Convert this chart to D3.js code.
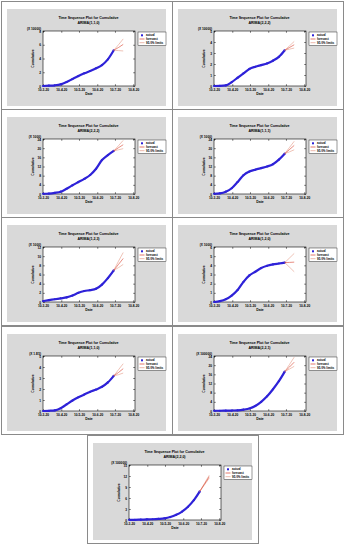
<!DOCTYPE html>
<meta charset="utf-8">
<script src="https://d3js.org/d3.v7.min.js"></script>
<style>
  body { margin: 0; background: #fff; }
  text { font-family: "Liberation Sans", Arial, sans-serif; }
</style>
<div id="chart"></div>
<script>

// ---- data ----
var models = ["ARIMA(1,1,0)", "ARIMA(2,2,2)", "ARIMA(2,2,2)", "ARIMA(1,1,1)", "ARIMA(1,2,3)",
              "ARIMA(1,2,0)", "ARIMA(1,1,0)", "ARIMA(2,2,1)", "ARIMA(2,2,0)"];
var multipliers = ["(X 10000)", "(X 10000)", "(X 1000)", "(X 1000)", "(X 1000)",
                   "(X 1000)", "(X 1.E5)", "(X 100000)", "(X 100000)"];
var yMax = [8, 5, 24, 24, 12, 6, 5, 24, 15];
var yStep = [2, 1, 4, 4, 2, 1, 1, 4, 3];

// x in days from 10-3-20
var dateTicks = [0, 31, 61, 92, 122, 153];
var dateLabels = ["10-3-20", "10-4-20", "10-5-20", "10-6-20", "10-7-20", "10-8-20"];
var actualDays = [0, 10, 20, 30, 40, 50, 60, 70, 80, 90, 100, 110, 120];
var forecastDays = [120, 128, 136];

var actual = [
  [0, 0.05, 0.1, 0.24, 0.58, 1.02, 1.45, 1.84, 2.18, 2.57, 3.05, 3.88, 5.2],
  [0, 0.01, 0.05, 0.35, 0.75, 1.15, 1.55, 1.75, 1.9, 2.05, 2.3, 2.65, 3.25],
  [0.1, 0.2, 0.5, 1.0, 2.3, 3.8, 5.2, 6.6, 8.3, 11.0, 14.8, 17.0, 18.8],
  [0.1, 0.3, 1.0, 2.5, 5.2, 8.2, 9.8, 10.6, 11.3, 12.0, 13.0, 15.0, 17.6],
  [0.2, 0.4, 0.6, 0.8, 1.0, 1.4, 2.0, 2.4, 2.6, 2.9, 3.8, 5.2, 6.9],
  [0, 0.1, 0.3, 0.7, 1.3, 2.2, 2.9, 3.3, 3.7, 3.95, 4.1, 4.2, 4.3],
  [0, 0.02, 0.05, 0.25, 0.6, 0.95, 1.25, 1.5, 1.75, 1.95, 2.2, 2.6, 3.2],
  [0.1, 0.1, 0.15, 0.2, 0.3, 0.6, 1.1, 2.2, 4.0, 6.4, 9.5, 13.0, 17.2],
  [0.05, 0.05, 0.1, 0.15, 0.2, 0.3, 0.45, 0.8, 1.4, 2.3, 3.6, 5.4, 7.8]
];
var forecast = [
  [5.2, 5.6, 6.05], [3.25, 3.5, 3.75], [18.8, 20.2, 21.5], [17.6, 19.4, 21.2], [6.9, 8.2, 9.5],
  [4.3, 4.32, 4.35], [3.2, 3.5, 3.85], [17.2, 19.2, 21.3], [7.8, 9.8, 11.8]
];
var lower = [
  [5.2, 5.15, 5.1], [3.25, 3.35, 3.45], [18.8, 19.3, 19.8], [17.6, 18.4, 19.3], [6.9, 7.5, 8.2],
  [4.3, 3.8, 3.3], [3.2, 3.3, 3.45], [17.2, 18.3, 19.5], [7.8, 9.6, 11.4]
];
var upper = [
  [5.2, 6.0, 6.85], [3.25, 3.65, 4.05], [18.8, 21.1, 23.4], [17.6, 20.3, 23.0], [6.9, 8.9, 10.8],
  [4.3, 4.8, 5.3], [3.2, 3.75, 4.3], [17.2, 20.3, 23.5], [7.8, 10.0, 12.2]
];

// cell positions (top-left corners)
var cellX = [1, 172, 1, 172, 1, 172, 1, 172, 87];
var cellY = [1, 1, 109, 109, 217, 217, 326, 326, 435];
var cellW = 171, cellH = 108;

var svg = d3.select("#chart").append("svg")
    .attr("width", 345)
    .attr("height", 550);

// gray panel and plot layout inside each cell
var panel = {x: 6, y: 8, w: 159, h: 97};
var plot = {left: 36, top: 22, width: 92, height: 55};

models.forEach(function(model, i) {

    var cell = svg.append("g")
        .attr("transform", "translate(" + cellX[i] + "," + cellY[i] + ")");

    cell.append("rect")
        .attr("x", 0.5).attr("y", 0.5)
        .attr("width", cellW).attr("height", cellH)
        .attr("fill", "#fff")
        .attr("stroke", "#8a8a8a")
        .attr("stroke-width", 1);

    var g = cell.append("g")
        .attr("transform", "translate(" + panel.x + "," + panel.y + ")");

    g.append("rect")
        .attr("width", panel.w).attr("height", panel.h)
        .attr("fill", "#d9d9d9");

    // title
    g.append("text")
        .attr("x", panel.w / 2 + 2).attr("y", 10)
        .attr("text-anchor", "middle")
        .attr("font-size", 3.6).attr("font-weight", "bold")
        .text("Time Sequence Plot for Cumulative");
    g.append("text")
        .attr("x", panel.w / 2 + 2).attr("y", 14.5)
        .attr("text-anchor", "middle")
        .attr("font-size", 3.6).attr("font-weight", "bold")
        .text(model);

    var p = g.append("g")
        .attr("transform", "translate(" + plot.left + "," + plot.top + ")");

    p.append("rect")
        .attr("width", plot.width).attr("height", plot.height)
        .attr("fill", "#fff");

    var x = d3.scaleLinear().domain([0, 156]).range([0, plot.width]);
    var y = d3.scaleLinear().domain([0, yMax[i]]).range([plot.height, 0]);
    var yTicks = d3.range(0, yMax[i] + yStep[i] / 2, yStep[i]);

    // axes
    p.append("g")
        .attr("transform", "translate(0," + plot.height + ")")
        .call(d3.axisBottom(x).tickValues(dateTicks)
            .tickFormat(function(d, k) { return dateLabels[k]; })
            .tickSizeInner(-1.8).tickSizeOuter(0).tickPadding(2.5));
    p.append("g")
        .call(d3.axisLeft(y).tickValues(yTicks).tickFormat(d3.format("d"))
            .tickSizeInner(-1.8).tickSizeOuter(0).tickPadding(2));
    p.append("g")
        .call(d3.axisTop(x).tickValues(dateTicks).tickFormat("")
            .tickSizeInner(-1.8).tickSizeOuter(0));
    p.append("g")
        .attr("transform", "translate(" + plot.width + ",0)")
        .call(d3.axisRight(y).tickValues(yTicks).tickFormat("")
            .tickSizeInner(-1.8).tickSizeOuter(0));

    p.selectAll(".domain").remove();
    p.selectAll(".tick line").attr("stroke", "#000").attr("stroke-width", 0.5);
    p.selectAll(".tick text").attr("font-size", 3.2).attr("font-weight", "bold")
        .attr("font-family", "Liberation Sans, Arial, sans-serif");

    p.append("rect")
        .attr("width", plot.width).attr("height", plot.height)
        .attr("fill", "none").attr("stroke", "#000").attr("stroke-width", 0.6);

    // axis titles
    p.append("text")
        .attr("x", plot.width / 2).attr("y", plot.height + 9)
        .attr("text-anchor", "middle")
        .attr("font-size", 3.4).attr("font-weight", "bold")
        .text("Date");
    p.append("text")
        .attr("transform", "translate(-9," + plot.height / 2 + ") rotate(-90)")
        .attr("text-anchor", "middle")
        .attr("font-size", 3.4).attr("font-weight", "bold")
        .text("Cumulative");
    p.append("text")
        .attr("x", -2).attr("y", -1.5)
        .attr("text-anchor", "end")
        .attr("font-size", 3.2).attr("font-weight", "bold")
        .text(multipliers[i]);

    // actual series
    var pts = actualDays.map(function(d, k) { return [d, actual[i][k]]; });
    var line = d3.line()
        .x(function(d) { return x(d[0]); })
        .y(function(d) { return y(d[1]); })
        .curve(d3.curveMonotoneX);

    p.append("path")
        .datum(pts)
        .attr("d", line)
        .attr("fill", "none")
        .attr("stroke", "#2e22d8")
        .attr("stroke-width", 2.2);
    p.selectAll(".pt")
        .data(pts)
        .enter().append("circle")
        .attr("cx", function(d) { return x(d[0]); })
        .attr("cy", function(d) { return y(d[1]); })
        .attr("r", 1.1)
        .attr("fill", "#2e22d8");

    // forecast and limits
    var fLine = d3.line()
        .x(function(d) { return x(d[0]); })
        .y(function(d) { return y(d[1]); });
    [[upper[i], "#e49a86", 0.6], [lower[i], "#e49a86", 0.6], [forecast[i], "#d8402c", 0.6]]
        .forEach(function(s) {
            p.append("path")
                .datum(forecastDays.map(function(d, k) { return [d, s[0][k]]; }))
                .attr("d", fLine)
                .attr("fill", "none")
                .attr("stroke", s[1])
                .attr("stroke-width", s[2]);
        });

    // legend
    var lg = g.append("g")
        .attr("transform", "translate(131,23)");
    lg.append("rect")
        .attr("width", 28).attr("height", 13.5)
        .attr("fill", "#fff").attr("stroke", "#000").attr("stroke-width", 0.4);
    var legendItems = ["actual", "forecast", "95.0% limits"];
    legendItems.forEach(function(name, k) {
        var ly = 3.3 + k * 3.7;
        if (k === 0) {
            lg.append("rect")
                .attr("x", 3).attr("y", ly - 1).attr("width", 2).attr("height", 2)
                .attr("fill", "#2e22d8");
        } else {
            lg.append("line")
                .attr("x1", 1.5).attr("x2", 6.5).attr("y1", ly).attr("y2", ly)
                .attr("stroke", k === 1 ? "#d8402c" : "#e49a86")
                .attr("stroke-width", 0.7);
        }
        lg.append("text")
            .attr("x", 8).attr("y", ly + 1.1)
            .attr("font-size", 3).attr("font-weight", "bold")
            .text(name);
    });
});

</script>
